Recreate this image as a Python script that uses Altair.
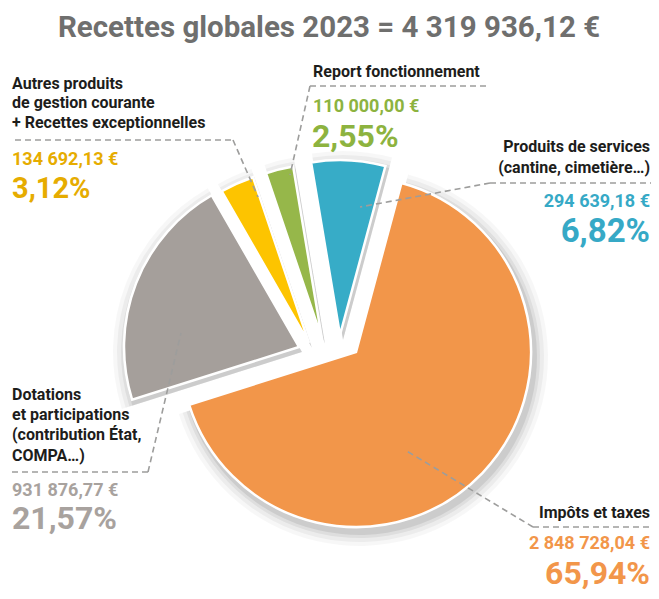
import math
import altair as alt
import pandas as pd

W, H = 643, 583
FONT = "Roboto"

# ---- data ----
categories = ["Produits de services", "Impôts et taxes", "Dotations et participations",
              "Autres produits", "Report fonctionnement"]
amounts = [294639.18, 2848728.04, 931876.77, 134692.13, 110000.00]
amount_labels = ["294 639,18 €", "2 848 728,04 €", "931 876,77 €", "134 692,13 €", "110 000,00 €"]
percent_labels = ["6,82%", "65,94%", "21,57%", "3,12%", "2,55%"]
title_text = "Recettes globales 2023 = 4 319 936,12 €"

# ---- style ----
slice_colors = ["#37ACC7", "#F2964A", "#A59F9B", "#FDC400", "#96B74A"]
text_colors = ["#36A9C6", "#F2964A", "#A8A29E", "#E6AC00", "#8DB33F"]
explode = [(10.5, 35.5), (26.5, 52.5), (-30.5, 47.5), (-20.5, 43.5), (-7.5, 39.5)]
start = math.radians(-9.5)
R = 175

pie = pd.DataFrame({
    "cat": categories,
    "value": amounts,
    "order": list(range(len(categories))),
    "dx": [e[0] for e in explode],
    "dy": [e[1] for e in explode],
})

theta = alt.Theta("value:Q", stack=True, scale=alt.Scale(range=[start, start + 2 * math.pi]))
order = alt.Order("order:Q", sort="ascending")

shadows = []
for extra, op in [(14, 0.03), (10, 0.045), (6, 0.06), (3, 0.08)]:
    shadows.append(
        alt.Chart(pie).mark_arc(
            outerRadius=R + extra, color="#000000", opacity=op,
            xOffset=alt.ExprRef(expr="datum.dx + 3"), yOffset=alt.ExprRef(expr="datum.dy + 5"),
        ).encode(theta=theta, order=order)
    )

arcs = alt.Chart(pie).mark_arc(
    outerRadius=R, stroke="white", strokeWidth=2.5,
    xOffset=alt.ExprRef(expr="datum.dx"), yOffset=alt.ExprRef(expr="datum.dy"),
).encode(
    theta=theta,
    order=order,
    color=alt.Color("cat:N", scale=alt.Scale(domain=categories, range=slice_colors), legend=None),
)

# ---- leader lines (annotation geometry) ----
segs = pd.DataFrame([
    (7, 132, 225, 132), (225, 132, 250, 189),
    (302, 78, 479, 78), (302, 78, 282, 167),
    (482, 175, 651, 175), (482, 175, 352, 199),
    (4, 464, 140, 464), (140, 464, 173, 325),
    (525, 519, 644, 519), (525, 519, 397, 442),
], columns=["x", "y", "x2", "y2"])
leaders = alt.Chart(segs).mark_rule(color="#9D9D9C", strokeWidth=1.6, strokeDash=[6, 4]).encode(
    x=alt.X("x:Q", scale=None, axis=None), y=alt.Y("y:Q", scale=None, axis=None),
    x2="x2:Q", y2="y2:Q",
)

# ---- texts ----
BLACK = "#1D1D1B"
LBL = 16
AMT = 18
rows = []
def add(t, x, y, size, color, align):
    rows.append(dict(t=t, x=x, y=y, size=size, color=color, align=align))

# Autres produits (index 3)
add("Autres produits", 4, 81, LBL, BLACK, "left")
add("de gestion courante", 4, 100, LBL, BLACK, "left")
add("+ Recettes exceptionnelles", 4, 120, LBL, BLACK, "left")
add(amount_labels[3], 4, 157, AMT, text_colors[3], "left")
add(percent_labels[3], 4, 190, 29, text_colors[3], "left")
# Report (index 4)
add("Report fonctionnement", 305, 69, LBL, BLACK, "left")
add(amount_labels[4], 305, 104, AMT, text_colors[4], "left")
add(percent_labels[4], 304, 139, 32, text_colors[4], "left")
# Produits de services (index 0)
add("Produits de services", 642, 144, LBL, BLACK, "right")
add("(cantine, cimetière…)", 642, 165, LBL, BLACK, "right")
add(amount_labels[0], 642, 199, AMT, text_colors[0], "right")
add(percent_labels[0], 642, 234, 33, text_colors[0], "right")
# Dotations (index 2)
add("Dotations", 4, 392, LBL, BLACK, "left")
add("et participations", 4, 412, LBL, BLACK, "left")
add("(contribution État,", 4, 432, LBL, BLACK, "left")
add("COMPA…)", 4, 453, LBL, BLACK, "left")
add(amount_labels[2], 4, 488, AMT, text_colors[2], "left")
add(percent_labels[2], 4, 521, 32, text_colors[2], "left")
# Impôts (index 1)
add("Impôts et taxes", 642, 510, LBL, BLACK, "right")
add(amount_labels[1], 642, 541, AMT, text_colors[1], "right")
add(percent_labels[1], 642, 576, 32, text_colors[1], "right")

tdf = pd.DataFrame(rows)

def text_layer(align):
    return alt.Chart(tdf[tdf["align"] == align]).mark_text(
        align=align, baseline="alphabetic", font=FONT, fontWeight="bold"
    ).encode(
        x=alt.X("x:Q", scale=None, axis=None), y=alt.Y("y:Q", scale=None, axis=None),
        text="t:N", size=alt.Size("size:Q", scale=None, legend=None),
        color=alt.Color("color:N", scale=None, legend=None),
    )

title_df = pd.DataFrame({"t": [title_text], "x": [321], "y": [29]})
title = alt.Chart(title_df).mark_text(
    align="center", baseline="alphabetic", font=FONT, fontWeight="bold", fontSize=29.5, color="#6F6F6E"
).encode(x=alt.X("x:Q", scale=None, axis=None), y=alt.Y("y:Q", scale=None, axis=None), text="t:N")

chart = alt.layer(
    *shadows, arcs, leaders, text_layer("left"), text_layer("right"), title
).resolve_scale(color="independent").properties(
    width=W, height=H, autosize=alt.AutoSizeParams(type="none"), padding=0
).configure_view(stroke=None)

chart.save("out.html", embed_options={"renderer": "svg", "actions": False})
